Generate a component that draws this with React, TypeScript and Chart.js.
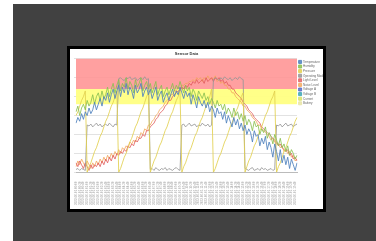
import { useEffect, useRef } from "react";
import { Chart, registerables } from "chart.js";

Chart.register(...registerables);

const labels = [
  "2023-06-01 00:00", "2023-06-01 00:10", "2023-06-01 00:20", "2023-06-01 00:30", "2023-06-01 00:40", "2023-06-01 00:50",
  "2023-06-01 01:00", "2023-06-01 01:10", "2023-06-01 01:20", "2023-06-01 01:30", "2023-06-01 01:40", "2023-06-01 01:50",
  "2023-06-01 02:00", "2023-06-01 02:10", "2023-06-01 02:20", "2023-06-01 02:30", "2023-06-01 02:40", "2023-06-01 02:50",
  "2023-06-01 03:00", "2023-06-01 03:10", "2023-06-01 03:20", "2023-06-01 03:30", "2023-06-01 03:40", "2023-06-01 03:50",
  "2023-06-01 04:00", "2023-06-01 04:10", "2023-06-01 04:20", "2023-06-01 04:30", "2023-06-01 04:40", "2023-06-01 04:50",
  "2023-06-01 05:00", "2023-06-01 05:10", "2023-06-01 05:20", "2023-06-01 05:30", "2023-06-01 05:40", "2023-06-01 05:50",
  "2023-06-01 06:00", "2023-06-01 06:10", "2023-06-01 06:20", "2023-06-01 06:30", "2023-06-01 06:40", "2023-06-01 06:50",
  "2023-06-01 07:00", "2023-06-01 07:10", "2023-06-01 07:20", "2023-06-01 07:30", "2023-06-01 07:40", "2023-06-01 07:50",
  "2023-06-01 08:00", "2023-06-01 08:10", "2023-06-01 08:20", "2023-06-01 08:30", "2023-06-01 08:40", "2023-06-01 08:50",
  "2023-06-01 09:00", "2023-06-01 09:10", "2023-06-01 09:20", "2023-06-01 09:30", "2023-06-01 09:40", "2023-06-01 09:50",
  "2023-06-01 10:00", "2023-06-01 10:10", "2023-06-01 10:20", "2023-06-01 10:30", "2023-06-01 10:40", "2023-06-01 10:50",
  "2023-06-01 11:00", "2023-06-01 11:10", "2023-06-01 11:20", "2023-06-01 11:30", "2023-06-01 11:40", "2023-06-01 11:50",
  "2023-06-01 12:00", "2023-06-01 12:10", "2023-06-01 12:20", "2023-06-01 12:30", "2023-06-01 12:40", "2023-06-01 12:50",
  "2023-06-01 13:00", "2023-06-01 13:10", "2023-06-01 13:20", "2023-06-01 13:30", "2023-06-01 13:40", "2023-06-01 13:50",
  "2023-06-01 14:00", "2023-06-01 14:10", "2023-06-01 14:20", "2023-06-01 14:30", "2023-06-01 14:40", "2023-06-01 14:50",
  "2023-06-01 15:00", "2023-06-01 15:10", "2023-06-01 15:20", "2023-06-01 15:30", "2023-06-01 15:40", "2023-06-01 15:50",
  "2023-06-01 16:00", "2023-06-01 16:10", "2023-06-01 16:20", "2023-06-01 16:30", "2023-06-01 16:40", "2023-06-01 16:50",
  "2023-06-01 17:00", "2023-06-01 17:10", "2023-06-01 17:20", "2023-06-01 17:30", "2023-06-01 17:40", "2023-06-01 17:50",
  "2023-06-01 18:00", "2023-06-01 18:10", "2023-06-01 18:20", "2023-06-01 18:30", "2023-06-01 18:40", "2023-06-01 18:50",
  "2023-06-01 19:00", "2023-06-01 19:10", "2023-06-01 19:20", "2023-06-01 19:30", "2023-06-01 19:40", "2023-06-01 19:50",
];

const temperature = [
  26, 29, 27, 31, 28, 32, 30, 34, 31, 33,
  37, 33, 36, 39, 35, 40, 38, 42, 37, 41,
  44, 39, 43, 46, 40, 45, 42, 47, 41, 45,
  43, 39, 46, 42, 44, 47, 40, 43, 45, 41,
  44, 39, 42, 45, 38, 41, 43, 37, 40, 42,
  38, 41, 44, 40, 43, 41, 45, 42, 39, 43,
  40, 42, 36, 41, 38, 34, 40, 37, 35, 38,
  34, 37, 32, 35, 33, 29, 34, 31, 32, 28,
  32, 26, 30, 27, 24, 29, 25, 28, 23, 26,
  22, 25, 20, 23, 21, 16, 22, 19, 20, 14,
  18, 15, 19, 12, 16, 13, 8, 15, 11, 6,
  12, 5, 9, 4, 8, 2, 7, 4, 1, 5,
];

const humidity = [
  32, 35, 30, 34, 36, 33, 38, 35, 37, 41,
  36, 40, 42, 38, 43, 39, 41, 45, 40, 44,
  47, 42, 46, 49, 43, 47, 45, 50, 44, 48,
  46, 42, 49, 45, 47, 50, 43, 46, 48, 44,
  47, 42, 45, 48, 41, 44, 46, 40, 43, 45,
  41, 44, 47, 43, 46, 44, 48, 45, 42, 46,
  43, 45, 40, 44, 42, 38, 43, 41, 39, 42,
  38, 40, 36, 39, 37, 34, 38, 35, 36, 33,
  36, 31, 34, 32, 29, 34, 30, 32, 28, 31,
  27, 30, 25, 28, 26, 22, 27, 24, 25, 20,
  23, 21, 24, 18, 21, 19, 15, 20, 17, 14,
  18, 13, 15, 11, 14, 9, 12, 10, 7, 9,
];

const pressure = [
  30, 32, 35, 38, 40, 43,
  0, 3, 5, 8, 11, 13, 16, 19, 21, 24, 27, 29, 32, 35, 37, 40, 43,
  0, 2, 5, 8, 10, 13, 16, 18, 21, 24, 26, 29, 32, 34, 37, 40, 42,
  0, 3, 6, 8, 11, 14, 16, 19, 22, 24, 27, 30, 32, 35, 38, 40, 43,
  0, 3, 5, 8, 11, 13, 16, 19, 21, 24, 27, 29, 32, 35, 37, 40, 44,
  0, 2, 5, 8, 10, 13, 16, 18, 21, 24, 26, 29, 32, 34, 37, 40, 42,
  0, 3, 6, 8, 11, 14, 16, 19, 22, 24, 27, 30, 32, 35, 38, 40, 43,
  0, 3, 5, 8, 11, 13, 16, 19, 21, 24, 27, 29,
];

const mode = [
  1.5, 2, 1, 2, 1.5, 1,
  25, 24.5, 25.5, 24, 25, 26, 24.5, 25.5, 24, 25, 25.5, 24.5, 26, 25, 24, 25.5, 25,
  49.5, 50, 49, 48.5, 50, 49.5, 50.5, 49, 49.5, 50, 48.5, 49.5, 50, 49, 50.5, 49, 49.5,
  1.5, 2, 1, 2.5, 1.5, 1, 2, 1.5, 2.5, 1, 2, 1.5, 1, 2, 2.5, 1.5, 1,
  25, 25.5, 24, 25, 26, 24.5, 25, 25.5, 24, 25, 24.5, 26, 25, 24.5, 25.5, 24, 25,
  49, 50, 49.5, 48.5, 50, 49, 50.5, 49.5, 49, 50, 48.5, 49.5, 50, 49, 50.5, 49.5, 49,
  2, 1.5, 1, 2, 2.5, 1, 1.5, 2, 1, 2.5, 1.5, 2, 1, 1.5, 2, 1, 1.5,
  25, 24.5, 25.5, 24, 25, 26, 24.5, 25, 25.5, 24, 25, 25.5,
];

const light = [
  5, 3, 6, 4, 2, 5, 3, 1, 4, 2,
  4, 3, 5, 3, 6, 4, 7, 5, 8, 6,
  9, 7, 10, 9, 11, 10, 12, 11, 14, 13,
  15, 14, 17, 16, 18, 18, 20, 19, 22, 22,
  24, 25, 26, 28, 29, 31, 32, 33, 35, 36,
  38, 38, 40, 41, 42, 43, 43, 45, 44, 46,
  45, 47, 46, 48, 47, 49, 47, 48, 49, 47,
  50, 48, 49, 50, 48, 50, 49, 50, 48, 49,
  47, 48, 46, 46, 44, 44, 42, 41, 40, 39,
  37, 36, 35, 33, 32, 31, 29, 28, 27, 26,
  24, 23, 22, 21, 20, 19, 18, 17, 16, 14,
  15, 13, 12, 11, 12, 9, 10, 7, 8, 6,
];

const noise = [
  3, 6, 4, 7, 5, 3, 6, 4, 2, 5,
  3, 6, 4, 7, 5, 8, 6, 9, 7, 10,
  8, 11, 9, 12, 10, 13, 12, 14, 13, 16,
  15, 17, 16, 19, 18, 21, 20, 23, 22, 25,
  25, 27, 28, 30, 31, 33, 34, 35, 37, 38,
  39, 41, 41, 43, 43, 45, 44, 46, 46, 47,
  47, 48, 48, 49, 48, 50, 49, 50, 48, 50,
  49, 51, 49, 50, 49, 51, 48, 49, 47, 48,
  46, 46, 44, 44, 42, 42, 40, 39, 38, 37,
  35, 35, 33, 32, 31, 29, 28, 27, 25, 25,
  23, 22, 21, 20, 19, 17, 18, 16, 15, 15,
  13, 14, 11, 12, 10, 11, 8, 9, 6, 7,
];

const seriesNames = [
  "Temperature", "Humidity", "Pressure", "Operating Mode", "Light Level",
  "Noise Level", "Voltage A", "Voltage B", "Current", "Battery",
];
const seriesColors = [
  "rgba(79,129,189,0.85)", "rgba(140,193,82,0.85)", "rgba(226,208,80,0.85)", "rgba(150,150,150,0.85)", "rgba(224,90,90,0.8)",
  "rgba(242,166,90,0.8)", "rgba(91,111,196,0.85)", "rgba(63,167,181,0.85)", "rgba(217,227,107,0.85)", "rgba(232,228,166,0.85)",
];
const seriesData = [temperature, humidity, pressure, mode, light, noise, [], [], [], []];

const yMin = 0;
const yMax = 60;
const yStep = 10;
const bandValues = [
  { from: 44, to: 60, color: "rgba(255,150,150,0.9)" },
  { from: 36, to: 44, color: "rgba(255,255,130,0.95)" },
];

const bandsPlugin = {
  id: "bands",
  beforeDatasetsDraw(chart: any) {
    const { ctx, chartArea, scales } = chart;
    const y = scales.y;
    ctx.save();
    for (const b of bandValues) {
      const top = y.getPixelForValue(b.to);
      const bottom = y.getPixelForValue(b.from);
      ctx.fillStyle = b.color;
      ctx.fillRect(chartArea.left, top, chartArea.right - chartArea.left, bottom - top);
    }
    ctx.restore();
  },
};

export default function App() {
  const ref = useRef<HTMLCanvasElement | null>(null);

  useEffect(() => {
    if (!ref.current) return;
    Chart.defaults.font.family = "'Liberation Sans', Arial, sans-serif";
    const chart = new Chart(ref.current, {
      type: "line",
      data: {
        labels,
        datasets: seriesNames.map((name, i) => ({
          label: name,
          data: seriesData[i],
          borderColor: seriesColors[i],
          backgroundColor: seriesColors[i],
          borderWidth: 1,
          pointRadius: 0,
          tension: 0,
          fill: false,
        })),
      },
      options: {
        responsive: false,
        animation: false,
        layout: { padding: { left: 4, right: 0, top: 1, bottom: 3 } },
        plugins: {
          title: {
            display: true,
            text: "Sensor Data",
            fullSize: false,
            color: "#333",
            font: { size: 4, weight: "bold" },
            padding: { top: 1.5, bottom: 2.5 },
          },
          legend: {
            position: "right",
            align: "start",
            fullSize: false,
            maxWidth: 26,
            labels: {
              font: { size: 3 },
              color: "#666",
              boxWidth: 3,
              boxHeight: 3,
              padding: 1.6,
            },
          },
          tooltip: { enabled: false },
        },
        scales: {
          x: {
            grid: { display: false },
            border: { color: "#bbb" },
            ticks: {
              font: { size: 3 },
              color: "#999",
              minRotation: 90,
              maxRotation: 90,
              autoSkipPadding: 0,
              padding: 1,
            },
          },
          y: {
            min: yMin,
            max: yMax,
            ticks: { display: false, stepSize: yStep },
            grid: { color: "#e2e2e2", tickLength: 2 },
            border: { display: false },
          },
        },
      },
      plugins: [bandsPlugin],
    });
    return () => chart.destroy();
  }, []);

  return (
    <div style={{ position: "fixed", left: 13, top: 4, right: 0, bottom: 0, background: "#414141" }}>
      <div
        style={{
          position: "fixed",
          left: 67,
          top: 46,
          width: 259,
          height: 166,
          boxSizing: "border-box",
          border: "3px solid #000",
          background: "#fff",
        }}
      >
        <canvas ref={ref} width={253} height={160} style={{ display: "block" }} />
      </div>
    </div>
  );
}
